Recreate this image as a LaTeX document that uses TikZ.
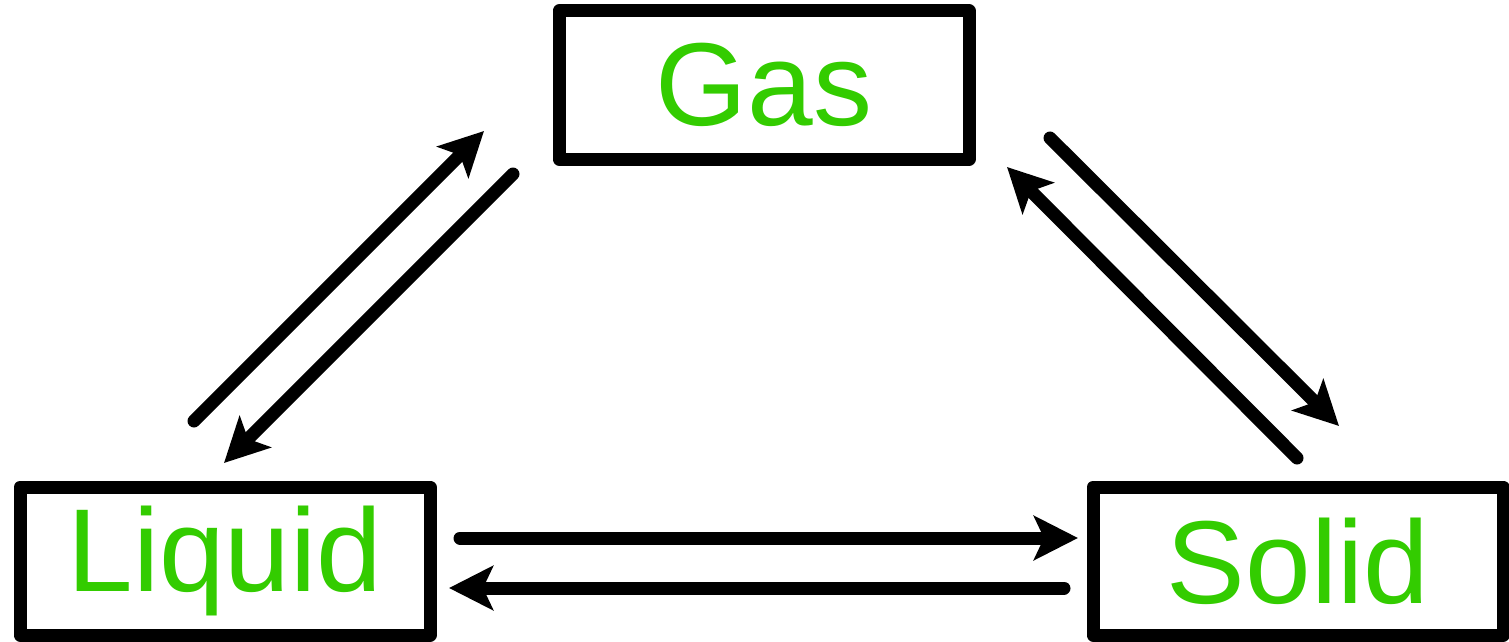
\documentclass[tikz,border=0pt]{standalone}
\usepackage{fontspec}
\setmainfont{Liberation Sans}
\usepackage{tikz}
\usetikzlibrary{calc}
\usetikzlibrary{arrows.meta}

\definecolor{phasegreen}{RGB}{51,204,0}

\tikzset{
  phase/.style={draw, line width=6.5pt, line join=round, minimum width=205pt,
    minimum height=74pt, inner sep=0pt, text=phasegreen,
    font=\fontsize{59}{60}\selectfont},
  change/.style={line width=6.5pt, line cap=round,
    -{Stealth[length=22pt, width=22pt, inset=5pt]}}
}

\begin{document}
\begin{tikzpicture}[x=0.5pt, y=-0.5pt]
    \useasboundingbox (0,0) rectangle (1509,642);
    % the three phases
    \node[phase] (gas) at (764,85) {Gas};
    \node[phase] (liquid) at (225,561) {Liquid};
    \node[phase] (solid) at (1298,561) {Solid};
    % ends of the arrows
    \coordinate (lg1) at (194,421);
    \coordinate (lg2) at (484,131);
    \coordinate (gl1) at (513,174);
    \coordinate (gl2) at (224,463);
    \coordinate (gs1) at (1050,138);
    \coordinate (gs2) at (1339,426);
    \coordinate (sg1) at (1297,458);
    \coordinate (sg2) at (1007,167);
    \coordinate (ls1) at (460,538);
    \coordinate (ls2) at (1078,538);
    \coordinate (sl1) at (1064,588);
    \coordinate (sl2) at (449,588);
    \draw[change] (lg1) -- (lg2);
    \draw[change] (gl1) -- (gl2);
    \draw[change] (gs1) -- (gs2);
    \draw[change] (sg1) -- (sg2);
    \draw[change] (ls1) -- (ls2);
    \draw[change] (sl1) -- (sl2);
\end{tikzpicture}
\end{document}
